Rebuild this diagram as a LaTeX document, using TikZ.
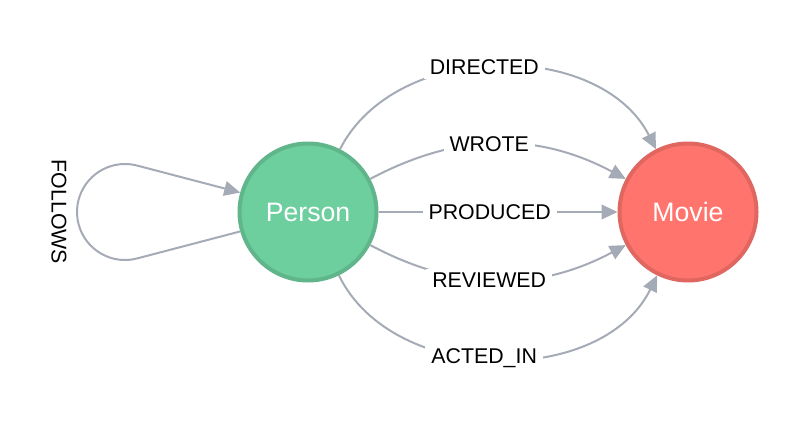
\documentclass[tikz,border=0pt]{standalone}
\usepackage{fontspec}
\setmainfont{Liberation Sans}
\usetikzlibrary{arrows.meta}
\definecolor{personfill}{HTML}{6DCE9E}
\definecolor{personline}{HTML}{60B58B}
\definecolor{moviefill}{HTML}{FF756E}
\definecolor{movieline}{HTML}{E06760}
\definecolor{relgray}{HTML}{A5ABB6}
\begin{document}
\begin{tikzpicture}[x=0.75pt,y=0.75pt,
  entity/.style={circle, minimum size=102.75pt, inner sep=0pt, line width=3pt, text=white, font=\fontsize{20}{24}\selectfont},
  rel/.style={draw=relgray, line width=1.5pt, -{Triangle[length=12pt,width=11pt]}},
  rellabel/.style={fill=white, inner xsep=4.5pt, inner ysep=3pt, text=black, font=\fontsize{16}{19}\selectfont}]
  \useasboundingbox (0,0) rectangle (805,422);
  % Nodes
  \node[entity, fill=personfill, draw=personline] (person) at (308,210) {Person};
  \node[entity, fill=moviefill, draw=movieline] (movie) at (688,210) {Movie};
  % Relationships
  \draw[rel] (person) to[bend left=63] node[rellabel, pos=0.465] {DIRECTED} (movie);
  \draw[rel] (person) to[bend left=28] node[rellabel, pos=0.465] {WROTE} (movie);
  \draw[rel] (person) -- node[rellabel, pos=0.465] {PRODUCED} (movie);
  \draw[rel] (person) to[bend right=28] node[rellabel, pos=0.465] {REVIEWED} (movie);
  \draw[rel] (person) to[bend right=64] node[rellabel, pos=0.465] {ACTED\_IN} (movie);
  % Self loop
  \coordinate (loopc) at (125,210);
  \draw[rel] (person.196) -- ([shift={(-75:48)}]loopc) arc[start angle=-75, end angle=-285, radius=48] -- (person.164);
  \node[rellabel, fill=none, rotate=-90] (follows) at (59,210) {FOLLOWS};
\end{tikzpicture}
\end{document}
